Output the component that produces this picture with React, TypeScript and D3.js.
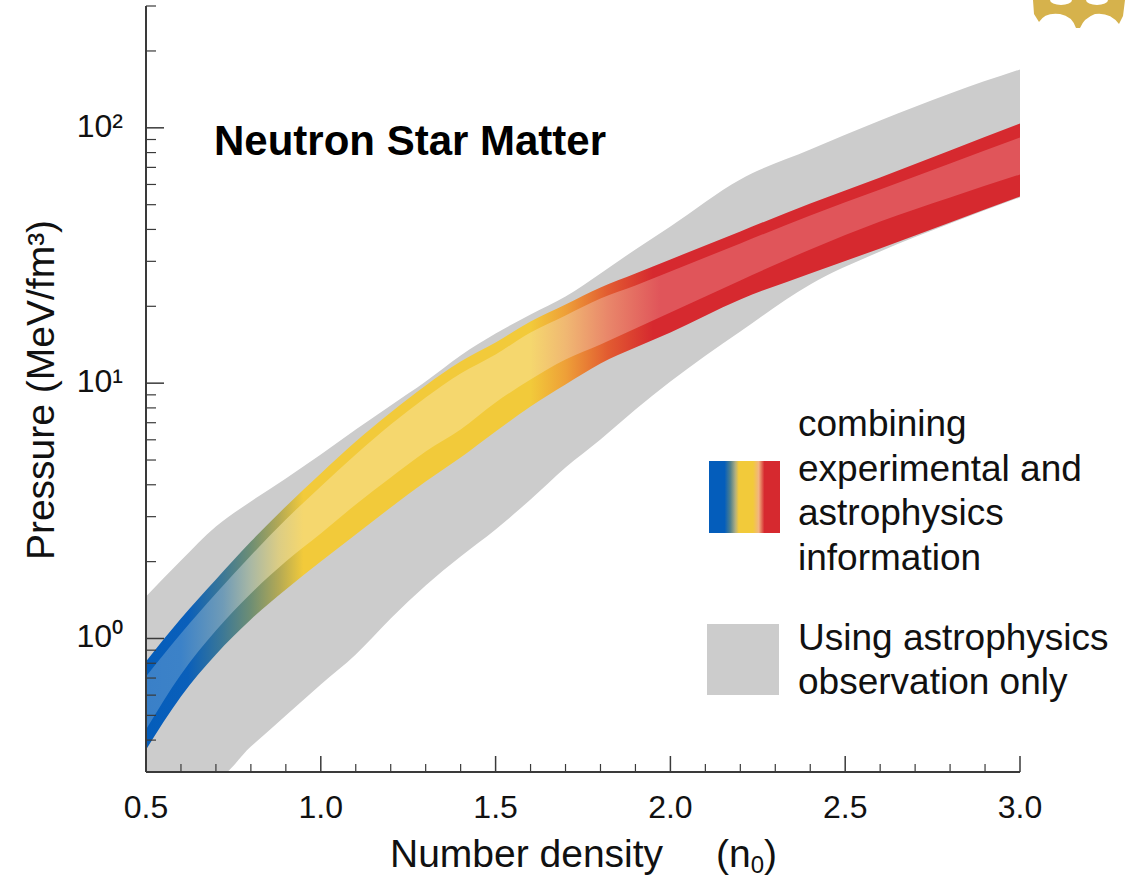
import React from "react";
import * as d3 from "d3";

// ---- data ----
const DENSITY = [0.5, 0.6, 0.7, 0.8, 0.9, 1.0, 1.1, 1.2, 1.3, 1.4, 1.5, 1.6, 1.7, 1.8, 1.9, 2.0, 2.2, 2.4, 2.6, 2.8, 3.0];

// combined (experimental + astrophysics) band: outer range and inner (lighter) range
const COMBINED_OUTER_HIGH = [0.813, 1.198, 1.703, 2.399, 3.289, 4.43, 5.91, 7.68, 9.8, 12.16, 14.43, 17.45, 20.34, 23.71, 26.9, 30.52, 39.29, 50.56, 63.92, 81.55, 104.0];
const COMBINED_OUTER_LOW = [0.367, 0.593, 0.866, 1.187, 1.556, 2.002, 2.555, 3.26, 4.121, 5.117, 6.47, 8.105, 9.884, 11.95, 13.8, 15.8, 21.27, 26.9, 33.7, 42.61, 53.86];
const COMBINED_INNER_HIGH = [0.71, 1.046, 1.501, 2.114, 2.925, 3.939, 5.257, 6.89, 8.79, 10.91, 12.95, 15.8, 18.42, 21.46, 24.14, 27.38, 35.26, 45.39, 57.38, 72.55, 91.71];
const COMBINED_INNER_LOW = [0.44, 0.723, 1.075, 1.501, 2.002, 2.578, 3.349, 4.272, 5.402, 6.588, 8.4, 10.34, 12.38, 14.18, 16.38, 18.92, 25.26, 33.4, 43.0, 53.38, 65.7];

// astrophysics observation only band
const ASTRO_HIGH = [1.461, 2.021, 2.746, 3.44, 4.234, 5.257, 6.588, 8.177, 10.15, 12.84, 15.65, 18.58, 21.86, 26.9, 33.4, 41.1, 62.8, 82.3, 106.9, 136.4, 169.3];
const ASTRO_LOW = [0.3, 0.3, 0.2855, 0.3775, 0.4994, 0.6605, 0.866, 1.198, 1.613, 2.095, 2.673, 3.503, 4.675, 6.018, 7.89, 10.15, 15.94, 24.36, 32.8, 42.22, 53.4];

const X_MAJOR_TICKS = [0.5, 1.0, 1.5, 2.0, 2.5, 3.0];
const X_MINOR_TICKS = [0.6, 0.7, 0.8, 0.9, 1.1, 1.2, 1.3, 1.4, 1.6, 1.7, 1.8, 1.9, 2.1, 2.2, 2.3, 2.4, 2.6, 2.7, 2.8, 2.9];
const Y_MAJOR_TICKS = [1, 10, 100];
const Y_MAJOR_LABELS = ["10\u2070", "10\u00B9", "10\u00B2"];
const Y_MINOR_TICKS = [0.4, 0.5, 0.6, 0.7, 0.8, 0.9, 2, 3, 4, 5, 6, 7, 8, 9, 20, 30, 40, 50, 60, 70, 80, 90, 200, 300];

const TITLE = "Neutron Star Matter";
const X_TITLE = "Number density";
const Y_TITLE = "Pressure (MeV/fm\u00B3)";
const LEGEND_COMBINED = ["combining", "experimental and", "astrophysics", "information"];
const LEGEND_ASTRO = ["Using astrophysics", "observation only"];

// colour ramps along density (style)
const OUTER_STOPS: [number, string][] = [
  [0.5, "#045dbb"], [0.62, "#0a5fba"], [0.72, "#3c7896"], [0.8, "#6e8e74"], [0.88, "#b3a955"], [0.95, "#f2ca3a"],
  [1.6, "#f2ca3a"], [1.7, "#eea038"], [1.82, "#e25c31"], [1.95, "#d6292f"], [3.0, "#d6292f"],
];
const INNER_STOPS: [number, string][] = [
  [0.5, "#3a80c8"], [0.6, "#3c82c8"], [0.72, "#6f9bb7"], [0.8, "#a9b8a4"], [0.88, "#dccd84"], [0.95, "#f5d76e"],
  [1.6, "#f5d76e"], [1.7, "#f0b872"], [1.82, "#e9876a"], [1.97, "#e0555a"], [3.0, "#e0555a"],
];
const LEGEND_STOPS: [number, string][] = [
  [0, "#045dbb"], [0.22, "#045dbb"], [0.3, "#4f7f8c"], [0.37, "#b0ae80"], [0.42, "#f2ca3a"], [0.62, "#f2ca3a"],
  [0.7, "#f2b580"], [0.78, "#d6292f"], [1, "#d6292f"],
];

const W = 1135;
const H = 880;
const FONT = "'Liberation Sans', Arial, Helvetica, sans-serif";

export default function App() {
  const x = d3.scaleLinear().domain([0.5, 3.0]).range([146, 1020]);
  const y = d3.scaleLog().domain([0.3, 300]).range([772, 6]);

  const band = (lo: number[], hi: number[]) =>
    d3
      .area<number>()
      .x((d) => x(d))
      .y0((_, i) => y(lo[i]))
      .y1((_, i) => y(hi[i]))
      .curve(d3.curveMonotoneX)(DENSITY) as string;

  const x0 = x(0.5);
  const x1 = x(3.0);
  const off = (n: number) => (x(n) - x0) / (x1 - x0);

  const axisColor = "#3a3a3a";

  return (
    <svg
      width={W}
      height={H}
      style={{ position: "absolute", left: 0, top: 0, background: "#fff" }}
      fontFamily={FONT}
    >
      <defs>
        <clipPath id="plot">
          <rect x={x0} y={y(300)} width={x1 - x0} height={y(0.3) - y(300)} />
        </clipPath>
        <linearGradient id="outerGrad" gradientUnits="userSpaceOnUse" x1={x0} x2={x1} y1={0} y2={0}>
          {OUTER_STOPS.map(([n, c], i) => (
            <stop key={i} offset={off(n)} stopColor={c} />
          ))}
        </linearGradient>
        <linearGradient id="innerGrad" gradientUnits="userSpaceOnUse" x1={x0} x2={x1} y1={0} y2={0}>
          {INNER_STOPS.map(([n, c], i) => (
            <stop key={i} offset={off(n)} stopColor={c} />
          ))}
        </linearGradient>
        <linearGradient id="legendGrad" x1="0" x2="1" y1="0" y2="0">
          {LEGEND_STOPS.map(([o, c], i) => (
            <stop key={i} offset={o} stopColor={c} />
          ))}
        </linearGradient>
      </defs>

      <rect x={0} y={0} width={W} height={H} fill="#fff" />

      {/* logo fragment top right */}
      <g fill="#d6b24c">
        <path d="M1033,0 L1125,0 L1123,16 L1119,24 Q1110,12 1095,14 Q1084,18 1080,28 L1076,28 Q1072,16 1060,14 Q1045,12 1039,22 L1034,14 Z" />
        <ellipse cx={1061} cy={0} rx={11} ry={5} fill="#fff" />
        <ellipse cx={1097} cy={0} rx={11} ry={5} fill="#fff" />
      </g>

      <g clipPath="url(#plot)">
        <path d={band(ASTRO_LOW, ASTRO_HIGH)} fill="#cccccc" />
        <path d={band(COMBINED_OUTER_LOW, COMBINED_OUTER_HIGH)} fill="url(#outerGrad)" />
        <path d={band(COMBINED_INNER_LOW, COMBINED_INNER_HIGH)} fill="url(#innerGrad)" />
      </g>

      {/* axes */}
      <line x1={x0} x2={x0} y1={y(300)} y2={y(0.3)} stroke={axisColor} strokeWidth={2} />
      <line x1={x0} x2={x1} y1={y(0.3)} y2={y(0.3)} stroke={axisColor} strokeWidth={2} />

      {X_MAJOR_TICKS.map((t) => (
        <g key={"xm" + t}>
          <line x1={x(t)} x2={x(t)} y1={y(0.3)} y2={y(0.3) - 16} stroke={axisColor} strokeWidth={1.5} />
          <text x={x(t)} y={818} fontSize={32} textAnchor="middle" fill="#111">
            {t.toFixed(1)}
          </text>
        </g>
      ))}
      {X_MINOR_TICKS.map((t) => (
        <line key={"xn" + t} x1={x(t)} x2={x(t)} y1={y(0.3)} y2={y(0.3) - 8} stroke={axisColor} strokeWidth={1.2} />
      ))}

      {Y_MAJOR_TICKS.map((t, i) => (
        <g key={"ym" + t}>
          <line x1={x0} x2={x0 + 18} y1={y(t)} y2={y(t)} stroke={axisColor} strokeWidth={1.5} />
          <text x={123} y={y(t) + 9} fontSize={32} textAnchor="end" fill="#111">
            {Y_MAJOR_LABELS[i]}
          </text>
        </g>
      ))}
      {Y_MINOR_TICKS.map((t) => (
        <line key={"yn" + t} x1={x0} x2={x0 + 10} y1={y(t)} y2={y(t)} stroke={axisColor} strokeWidth={1.2} />
      ))}

      {/* titles */}
      <text x={214} y={155} fontSize={42} fontWeight="bold" fill="#000">
        {TITLE}
      </text>
      <text x={390} y={867} fontSize={39} fill="#111">
        {X_TITLE}
      </text>
      <text x={716} y={867} fontSize={39} fill="#111">
        (n
        <tspan fontSize={24} dy={6}>0</tspan>
        <tspan dy={-6}>)</tspan>
      </text>
      <text
        transform={`translate(54, ${390}) rotate(-90)`}
        fontSize={39}
        textAnchor="middle"
        fill="#111"
      >
        {Y_TITLE}
      </text>

      {/* legend */}
      <rect x={709} y={461} width={71} height={72} fill="url(#legendGrad)" />
      {LEGEND_COMBINED.map((s, i) => (
        <text key={s} x={798} y={436 + i * 44.5} fontSize={37} fill="#111">
          {s}
        </text>
      ))}
      <rect x={707} y={624} width={72} height={71} fill="#cccccc" />
      {LEGEND_ASTRO.map((s, i) => (
        <text key={s} x={798} y={650 + i * 43.5} fontSize={37} fill="#111">
          {s}
        </text>
      ))}
    </svg>
  );
}
